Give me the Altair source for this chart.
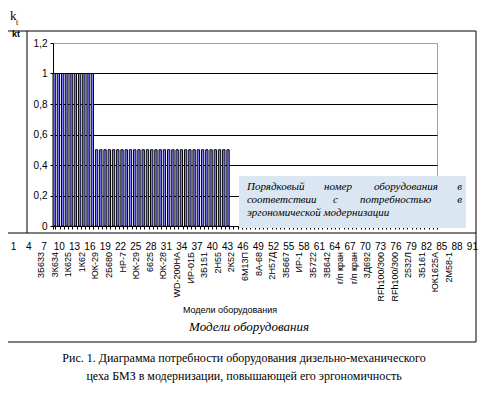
import altair as alt
import pandas as pd

# ---------------- data ----------------
category_ids = list(range(1, 92))
bar_values = [1, 1, 1, 1, 1, 1, 1, 1, 1, 1,
              0.5, 0.5, 0.5, 0.5, 0.5, 0.5, 0.5, 0.5, 0.5, 0.5,
              0.5, 0.5, 0.5, 0.5, 0.5, 0.5, 0.5, 0.5, 0.5, 0.5,
              0.5, 0.5, 0.5, 0.5, 0.5, 0.5, 0.5, 0.5, 0.5, 0.5,
              0.5, 0.5]
number_labels = [1, 4, 7, 10, 13, 16, 19, 22, 25, 28, 31, 34, 37, 40, 43, 46,
                 49, 52, 55, 58, 61, 64, 67, 70, 73, 76, 79, 82, 85, 88, 91]
model_labels = ["3Б633", "3К634", "1К625", "1К62", "ЮК-29", "2Б680", "НР-7",
                "ЮК-29", "6625", "ЮК-28", "WD-200НА", "ИР-01Б", "3Б151", "2Н55",
                "2К52", "6М13П", "8А-68", "2Н57Д", "3Б667", "ИР-1", "3Б722",
                "3В642", "г/п кран", "г/п кран", "3Д692", "RFh100/300",
                "RFh100/300", "2532Л", "3Б161", "ЮК1625А", "2М58-1"]
y_ticks = [0, 0.2, 0.4, 0.6, 0.8, 1, 1.2]

bars_df = pd.DataFrame({"cat": category_ids[:len(bar_values)], "v": bar_values})
nums_df = pd.DataFrame({"n": number_labels, "t": [str(n) for n in number_labels]})
models_df = pd.DataFrame({"i": list(range(len(model_labels))), "name": model_labels})

W, H = 384, 183
SANS = "Liberation Sans, Arial, sans-serif"
SERIF = "Liberation Serif, Times New Roman, Tinos, DejaVu Serif, serif"

one = alt.Data(values=[{}])


def rule(x1, x2, y1, y2, color="black"):
    return alt.Chart(one).mark_rule(color=color, strokeWidth=1).encode(
        x=alt.value(x1), x2=alt.value(x2), y=alt.value(y1), y2=alt.value(y2))


def label(txt, x, y, size, font=SANS, style="normal", weight="normal", align="left"):
    return alt.Chart(one).mark_text(text=txt, font=font, fontSize=size, fontStyle=style,
                                    fontWeight=weight, align=align, baseline="middle",
                                    color="black").encode(x=alt.value(x), y=alt.value(y))


bars = alt.Chart(bars_df).mark_bar(fill="#8080ff", stroke="black", strokeWidth=1).encode(
    x=alt.X("cat:O", scale=alt.Scale(domain=category_ids, paddingInner=0.45, paddingOuter=0),
            axis=alt.Axis(labels=False, title=None, tickBand="extent", tickSize=3,
                          tickColor="black", domainColor="black", grid=False)),
    y=alt.Y("v:Q", scale=alt.Scale(domain=[0, 1.2], nice=False),
            axis=alt.Axis(values=y_ticks, title=None, tickSize=3, tickColor="black",
                          domainColor="black", labelFont=SANS, labelFontSize=10,
                          labelColor="black", labelPadding=3,
                          labelExpr="replace(format(datum.value, '~g'), '.', ',')",
                          grid=True,
                          gridColor={"condition": {"test": "datum.value >= 1.19", "value": "#a0a0a0"},
                                     "value": "black"})),
)

# numbers row (own scale)
n0 = 8.76
n1 = n0 + W / 5.1
numbers = alt.Chart(nums_df).mark_text(font=SANS, fontSize=10, color="black",
                                       baseline="middle", align="center").encode(
    x=alt.X("n:Q", scale=alt.Scale(domain=[n0, n1], nice=False, zero=False), axis=None),
    y=alt.value(204),
    text="t:N")

# rotated model names (own scale)
m0 = 12 / 13.6
m1 = m0 + W / 13.6
models = alt.Chart(models_df).mark_text(font=SANS, fontSize=9, color="black", angle=270,
                                        baseline="middle", align="right").encode(
    x=alt.X("i:Q", scale=alt.Scale(domain=[m0, m1], nice=False, zero=False), axis=None),
    y=alt.value(209),
    text="name:N")

# annotation box
box = alt.Chart(one).mark_rect(fill="#dae6f2").encode(
    x=alt.value(186), x2=alt.value(413), y=alt.value(133), y2=alt.value(185))

ann = [
    label("Порядковый", 194, 144, 11, SERIF, "italic"),
    label("номер", 271, 144, 11, SERIF, "italic"),
    label("оборудования", 321, 144, 11, SERIF, "italic"),
    label("в", 409, 144, 11, SERIF, "italic", align="right"),
    label("соответствии", 194, 157, 11, SERIF, "italic"),
    label("с", 280, 157, 11, SERIF, "italic"),
    label("потребностью", 307, 157, 11, SERIF, "italic"),
    label("в", 409, 157, 11, SERIF, "italic", align="right"),
    label("эргономической модернизации", 194, 170, 11, SERIF, "italic"),
]

frame = [
    rule(-45, 423, -12, -12),
    rule(-26, -26, -12, 190),
    rule(-45, 423, 190, 190),
    rule(423, 423, -12, 299),
    rule(-45, 423, 299, 299),
]

texts = [
    label("k", -43, -27, 13, SERIF),
    label("t", -37, -20, 8, SERIF),
    label("kt", -41, -9, 9, SANS, weight="bold"),
    label("Модели оборудования", 177, 267, 9, SANS, align="center"),
    label("Модели оборудования", 196, 284, 13, SERIF, "italic", align="center"),
    label("Рис. 1. Диаграмма потребности оборудования дизельно-механического",
          191, 315, 12, SERIF, align="center"),
    label("цеха БМЗ в модернизации, повышающей его эргономичность",
          191, 333, 12, SERIF, align="center"),
]

chart = alt.layer(bars, numbers, models, box, *ann, *frame, *texts).resolve_scale(
    x="independent"
).properties(
    width=W, height=H,
    padding={"left": 45, "top": 35, "right": 43, "bottom": 159},
    autosize=alt.AutoSizeParams(type="none"),
    background="white",
).configure_view(stroke="#a0a0a0")

chart.save("out.html", embed_options={"renderer": "svg", "actions": False})
